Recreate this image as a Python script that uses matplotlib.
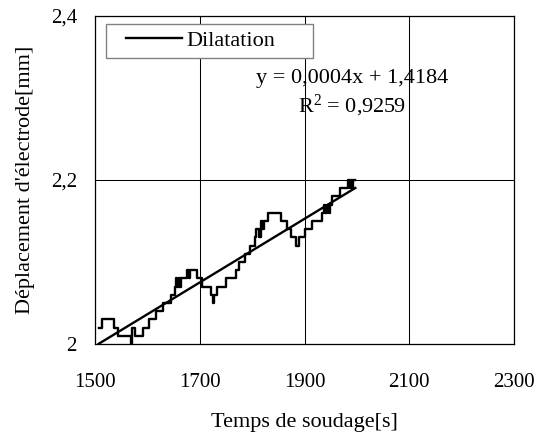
import numpy as np
import matplotlib
matplotlib.use("Agg")
import matplotlib.pyplot as plt
from matplotlib.legend_handler import HandlerLine2D

# ---- data ----
step_start = [1507, 1514, 1536, 1544, 1569, 1571, 1577, 1592, 1604, 1617,
              1630, 1646, 1652, 1655, 1657, 1660, 1662, 1665, 1675, 1680,
              1682, 1694, 1704, 1722, 1726, 1728, 1732, 1751, 1770, 1774,
              1786, 1795, 1805, 1808, 1811, 1814, 1816, 1817, 1821, 1823,
              1830, 1855, 1866, 1875, 1884, 1889, 1900, 1914, 1933, 1937,
              1940, 1943, 1946, 1949, 1952, 1968, 1983, 1986, 1988, 1991,
              1993, 1997]
step_value = [2.02, 2.03, 2.02, 2.01, 2.00, 2.02, 2.01, 2.02, 2.03, 2.04,
              2.05, 2.06, 2.07, 2.08, 2.07, 2.08, 2.07, 2.08, 2.09, 2.08,
              2.09, 2.08, 2.07, 2.06, 2.05, 2.06, 2.07, 2.08, 2.09, 2.10,
              2.11, 2.12, 2.13, 2.14, 2.14, 2.13, 2.14, 2.15, 2.14, 2.15,
              2.16, 2.15, 2.14, 2.13, 2.12, 2.13, 2.14, 2.15, 2.16, 2.17,
              2.16, 2.17, 2.16, 2.17, 2.18, 2.19, 2.20, 2.19, 2.20, 2.19,
              2.20, 2.20]

x_ticks = [1500, 1700, 1900, 2100, 2300]
x_tick_labels = ["1500", "1700", "1900", "2100", "2300"]
y_ticks = [2.0, 2.2, 2.4]
y_tick_labels = ["2", "2,2", "2,4"]

series_name = "Dilatation"
equation_text = "y = 0,0004x + 1,4184"
r2_text = r"R$^\mathrm{2}$ = 0,9259"
x_label = "Temps de soudage[s]"
y_label = "Déplacement d'électrode[mm]"

# ---- style ----
plt.rcParams['font.family'] = ['Liberation Serif', 'DejaVu Serif']
plt.rcParams['mathtext.fontset'] = 'custom'
plt.rcParams['mathtext.rm'] = 'Liberation Serif'
plt.rcParams['mathtext.it'] = 'Liberation Serif:italic'
FS = 16
FT = 15

fig = plt.figure(figsize=(5.38, 4.34), dpi=100)
ax = fig.add_axes([95/538, 1 - 344/434, (514-95)/538, (344-16)/434])

xs = np.array(step_start, dtype=float)
ys = np.array(step_value, dtype=float)
line, = ax.plot(xs, ys, drawstyle='steps-post', color='black', lw=1.7,
                label=series_name, zorder=3)

# linear trend fitted on the step series sampled each second
t = np.arange(xs[0], xs[-1] + 1)
idx = np.searchsorted(xs, t, side='right') - 1
coef = np.polyfit(t, ys[idx], 1)
tx = np.array([xs[0], xs[-1]])
ax.plot(tx, np.polyval(coef, tx), color='black', lw=1.7, zorder=3)

ax.set_xlim(1500, 2300)
ax.set_ylim(2.0, 2.4)
ax.set_xticks(x_ticks)
ax.set_xticklabels(x_tick_labels, fontsize=FT)
ax.set_yticks(y_ticks)
ax.set_yticklabels(y_tick_labels, fontsize=FT)
ax.tick_params(axis='x', length=0, pad=21)
ax.tick_params(axis='y', length=0, pad=13)
ax.grid(True, color='black', lw=0.75)
for s in ax.spines.values():
    s.set_color('black')
    s.set_linewidth(0.9)

ax.set_xlabel(x_label, fontsize=FS, labelpad=15)
ax.set_ylabel(y_label, fontsize=FS, labelpad=11)

leg = ax.legend(handles=[line], loc='upper left',
                bbox_to_anchor=(11/419, 1 - 8/328, 207/419, 0), mode='expand',
                borderaxespad=0, fontsize=FS, frameon=True, fancybox=False,
                edgecolor='#808080', framealpha=1, borderpad=0.3,
                handlelength=3.1, handletextpad=0.22,
                handler_map={line: HandlerLine2D(xpad=0.62)})
leg.get_frame().set_linewidth(1.0)

ax.text((352-95)/419, (344-78)/328, equation_text, transform=ax.transAxes,
        ha='center', va='center', fontsize=FS)
ax.text((352-95)/419, (344-106)/328, r2_text, transform=ax.transAxes,
        ha='center', va='center', fontsize=FS)

fig.savefig("out.png", dpi=100)
